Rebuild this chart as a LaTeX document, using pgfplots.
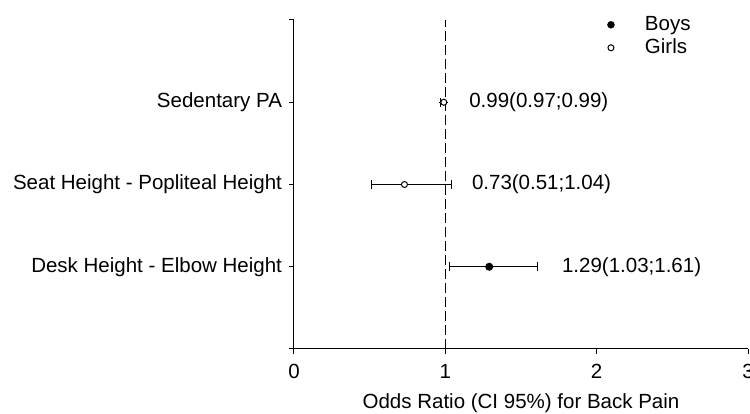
\documentclass[border=0pt]{standalone}
\usepackage{fontspec}
\setmainfont{Liberation Sans}
\usepackage{pgfplots}
\usepackage{pgfplotstable}
\pgfplotsset{compat=1.18}
\pgfplotstableread{
x    y  xp    xm
0.99 3  0.00  0.02
0.73 2  0.31  0.22
}\girls
\pgfplotstableread{
x    y  xp    xm
1.29 1  0.32  0.26
}\boys
\begin{document}
\fontsize{20.5}{24}\selectfont
\begin{tikzpicture}
\begin{axis}[
  at={(294pt,65pt)}, anchor=south west,
  scale only axis, width=454pt, height=329pt,
  xmin=0, xmax=3, ymin=0, ymax=4,
  axis lines*=left,
  axis line style={line width=1pt, black},
  xtick={0,1,2,3}, ytick={0,1,2,3,4},
  yticklabels={,Desk Height - Elbow Height, Seat Height - Popliteal Height, Sedentary PA,},
  tick align=outside, major tick length=5pt,
  tick style={black, line width=1pt},
  /pgf/number format/assume math mode=true,
  xlabel={Odds Ratio (CI 95\%) for Back Pain},
  xlabel style={yshift=-1.5pt},
  xticklabel style={yshift=-3pt},
  font=\fontsize{20.5}{24}\selectfont,
  ticklabel style={font=\fontsize{20.5}{24}\selectfont},
  clip=false,
  legend style={at={(axis description cs:0.690,1.021)}, anchor=north west, draw=none, fill=none,
    inner sep=0pt, row sep=0pt,
    nodes={inner sep=0.5pt, text height=17pt, text depth=5pt, anchor=west},
    /tikz/every odd column/.append style={column sep=30pt}},
  legend image code/.code={\draw[#1] plot coordinates {(10pt,0pt)};},
]
\addlegendimage{only marks, mark=*, black, mark size=3.5pt}
\addlegendentry{Boys}
\addlegendimage{only marks, mark=*, black, mark options={fill=white}, mark size=3pt, line width=1pt}
\addlegendentry{Girls}
\addplot[forget plot, black, line width=1pt, dash pattern=on 10pt off 4pt] coordinates {(1,0) (1,4)};
% Girls
\addplot[forget plot, only marks, mark=*, black, mark size=3pt, line width=1pt, mark options={fill=white},
  error bars/.cd, x dir=both, x explicit, error mark=|, error bar style={line width=1pt, black},
  error mark options={mark size=4.5pt, line width=1pt, black}]
  table[x=x, y=y, x error plus=xp, x error minus=xm] {\girls};
% Boys
\addplot[forget plot, only marks, mark=*, black, mark size=3.5pt, line width=1pt,
  error bars/.cd, x dir=both, x explicit, error mark=|, error bar style={line width=1pt, black},
  error mark options={mark size=4.5pt, line width=1pt, black}]
  table[x=x, y=y, x error plus=xp, x error minus=xm] {\boys};
\node[anchor=west, inner sep=0pt] at (axis cs:1.157,3) {0.99(0.97;0.99)};
\node[anchor=west, inner sep=0pt] at (axis cs:1.175,2) {0.73(0.51;1.04)};
\node[anchor=west, inner sep=0pt] at (axis cs:1.77,1) {1.29(1.03;1.61)};
\end{axis}
\pgfresetboundingbox
\useasboundingbox (0,0) rectangle (750pt,414pt);
\end{tikzpicture}
\end{document}
